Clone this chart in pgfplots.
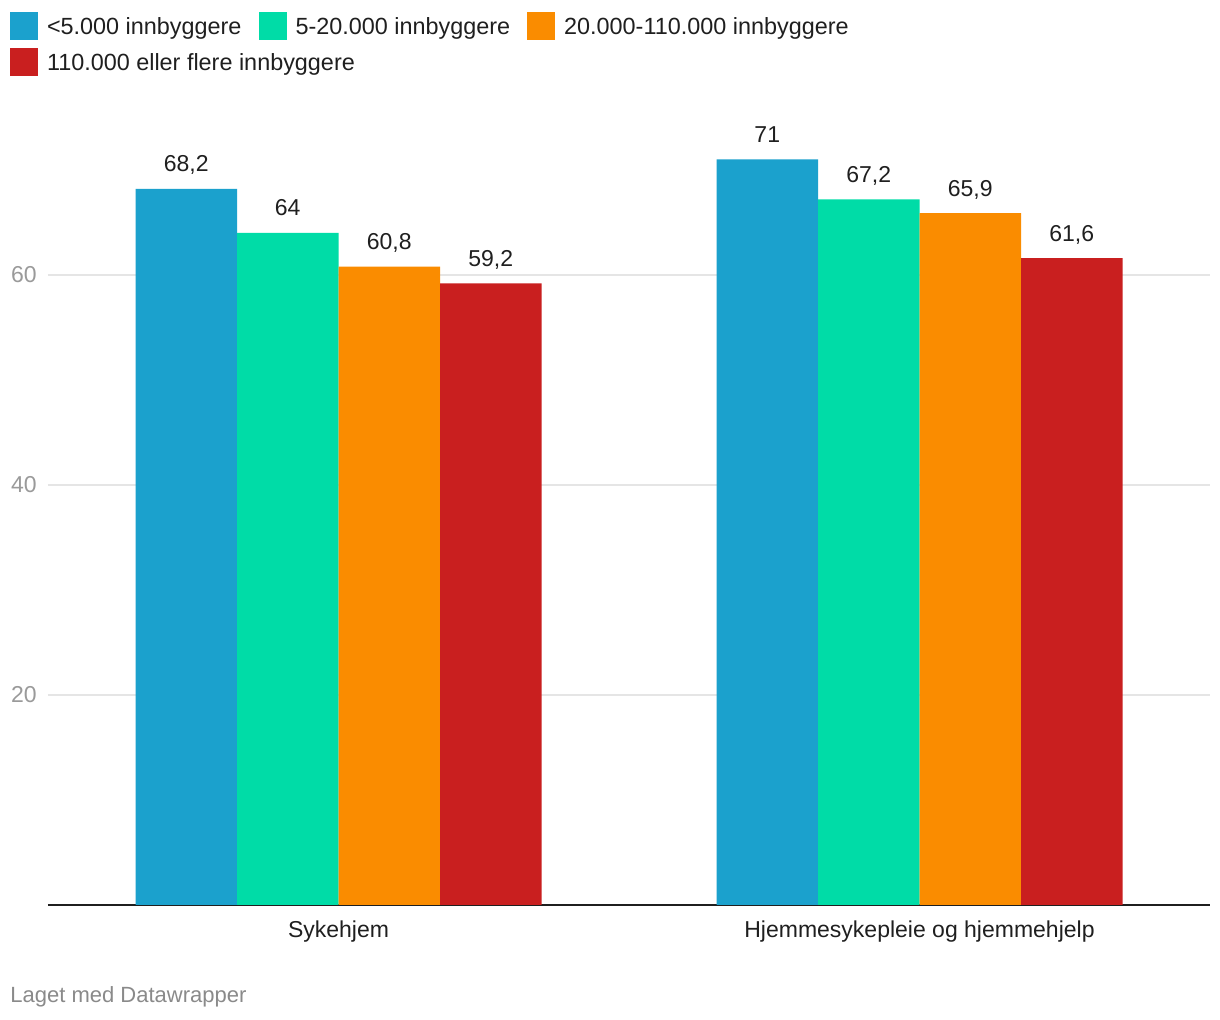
\documentclass[border=0pt]{standalone}
\usepackage{pgfplots}
\pgfplotsset{compat=1.18}
\usepackage{fontspec}
\setmainfont{Liberation Sans}
\definecolor{cblue}{HTML}{1BA1CD}
\definecolor{cgreen}{HTML}{00DCA7}
\definecolor{corange}{HTML}{FA8C00}
\definecolor{cred}{HTML}{C91F1F}
\definecolor{txt}{HTML}{1F1F1F}
\definecolor{tickgray}{HTML}{9A9A9A}
\definecolor{gridgray}{HTML}{E5E5E5}
\definecolor{footgray}{HTML}{8A8A8A}
\begin{document}
\begin{tikzpicture}
\path[use as bounding box, fill=white] (0,0) rectangle (610pt,510pt);
\begin{axis}[
  at={(24pt,57.5pt)}, anchor=south west,
  scale only axis, width=581pt, height=402.5pt,
  xmin=-0.5, xmax=1.5, ymin=0, ymax=76.667,
  ybar=0pt, bar width=50.75pt,
  xtick={0,1}, xticklabels={Sykehjem, Hjemmesykepleie og hjemmehjelp},
  ytick={20,40,60},
  major tick length=0pt,
  axis x line*=bottom, axis y line*=left,
  x axis line style={draw=txt, line width=1pt, -},
  y axis line style={draw=none},
  ymajorgrids, grid style={draw=gridgray, line width=1pt},
  /pgf/number format/.cd, use comma, 1000 sep={}, assume math mode=true,
  /pgfplots/.cd,
  tick label style={font=\fontsize{11.5}{13}\selectfont},
  xticklabel style={anchor=base, inner sep=0pt, yshift=-16.5pt, text=txt},
  yticklabel style={anchor=east, inner sep=0pt, xshift=-5.5pt, text=tickgray},
  nodes near coords,
  nodes near coords style={anchor=base, inner sep=0pt, yshift=8.5pt, text=txt, font=\fontsize{11.5}{13}\selectfont},
  legend columns=3, legend cell align=left,
  legend image code/.code={\fill[#1] (0pt,-2.5pt) rectangle (14pt,11.5pt);},
  legend style={at={(-0.0327,1.1093)}, anchor=north west, draw=none, fill=none,
    inner sep=0pt, outer sep=0pt, row sep=4pt,
    font=\fontsize{11.7}{13}\selectfont, text=txt,
    nodes={inner sep=0pt, anchor=base west},
    /tikz/every odd column/.style={column sep=4.5pt},
    /tikz/every even column/.style={column sep=8.5pt}},
]
\addplot[fill=cblue, draw=none] coordinates {(0,68.2) (1,71)};
\addlegendentry{<5.000 innbyggere}
\addplot[fill=cgreen, draw=none] coordinates {(0,64) (1,67.2)};
\addlegendentry{5-20.000 innbyggere}
\addplot[fill=corange, draw=none] coordinates {(0,60.8) (1,65.9)};
\addlegendentry{20.000-110.000 innbyggere}
\addplot[fill=cred, draw=none] coordinates {(0,59.2) (1,61.6)};
\addlegendentry{\rlap{110.000 eller flere innbyggere}\phantom{<5.000 innbyggere}}
\end{axis}
\node[anchor=base west, inner sep=0pt, text=footgray, font=\fontsize{11}{13}\selectfont] at (5pt,8.5pt) {Laget med Datawrapper};
\end{tikzpicture}
\end{document}
